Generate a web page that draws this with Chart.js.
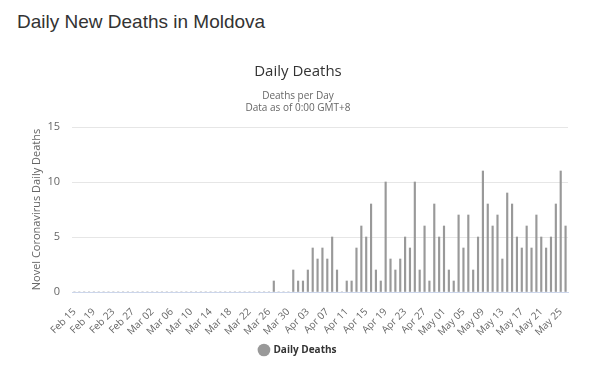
<!DOCTYPE html>
<html>
<head>
<meta charset="utf-8">
<script src="https://cdn.jsdelivr.net/npm/chart.js@4"></script>
<style>
  body { margin:0; background:#fff; }
  #wrap { position:relative; width:600px; height:365px; }
  #pageTitle { position:absolute; left:17px; top:11px; margin:0; font:19px "Liberation Sans", Arial, sans-serif; color:#333; font-weight:normal; }
  canvas { position:absolute; left:0; top:0; }
</style>
</head>
<body>
<div id="wrap">
  <h1 id="pageTitle">Daily New Deaths in Moldova</h1>
  <canvas id="chart" width="600" height="365"></canvas>
</div>
<script>
// ================= DATA =================
const startDate = "2020-02-15";
const dayCount = 102;
const yTicks = [0, 5, 10, 15];
const seriesName = "Daily Deaths";

// Feb 15 .. May 26
const dailyDeaths = [
  0,0,0,0,0,0,0,0,0,0,0,0,0,0,0,0,0,0,0,0,
  0,0,0,0,0,0,0,0,0,0,0,0,0,0,0,0,0,0,0,0,
  0,1,0,0,0,2,1,1,2,4,3,4,3,5,2,0,
  1,1,4,6,5,8,2,1,10,3,
  2,3,5,4,10,2,6,1,8,5,
  6,2,1,7,4,7,2,5,11,8,
  6,7,3,9,8,5,4,6,4,7,
  5,4,5,8,11,6
];

// category labels "Feb 15", "Feb 16", ...
const months = ["Jan","Feb","Mar","Apr","May","Jun"];
const dates = [];
const d0 = new Date(startDate + "T00:00:00");
for(let i=0;i<dayCount;i++){
  const d = new Date(d0.getTime() + i*86400000);
  dates.push(`${months[d.getMonth()]} ${String(d.getDate()).padStart(2,"0")}`);
}

// ================= CHART =================
const gridColor = "#e6e6e6";
const textColor = "#666";

new Chart(document.getElementById("chart"), {
  type: "bar",
  data: {
    labels: dates,
    datasets: [{
      label: seriesName,
      data: dailyDeaths,
      backgroundColor: "#999",
      borderWidth: 0,
      barThickness: 1.5
    }]
  },
  options: {
    responsive: false,
    animation: false,
    layout: { padding: { left: 28, right: 32, top: 0, bottom: 0 } },
    plugins: {
      title: {
        display: true,
        text: "Daily Deaths",
        color: "#333",
        font: { family: "Open Sans", size: 15, weight: "normal" },
        padding: { top: 63, bottom: 9 }
      },
      subtitle: {
        display: true,
        text: ["Deaths per Day", "Data as of 0:00 GMT+8"],
        color: textColor,
        font: { family: "Open Sans", size: 10, lineHeight: 1.2 },
        padding: { bottom: 13 }
      },
      legend: {
        position: "bottom",
        labels: {
          usePointStyle: true,
          pointStyle: "circle",
          boxWidth: 9,
          boxHeight: 9,
          padding: 6,
          color: "#333",
          font: { family: "Open Sans", size: 10, weight: "bold" }
        }
      },
      tooltip: { enabled: false }
    },
    scales: {
      x: {
        grid: { display: false, drawTicks: false },
        border: { color: "#ccd6eb" },
        afterFit: axis => { axis.height = 47; axis.paddingLeft = 0; },
        ticks: {
          autoSkip: false,
          maxRotation: 45,
          minRotation: 45,
          padding: 14,
          color: textColor,
          font: { family: "Open Sans", size: 10 },
          callback: (v, i) => i % 4 === 0 ? dates[i] : ""
        }
      },
      y: {
        min: 0,
        max: 15,
        afterBuildTicks: axis => { axis.ticks = yTicks.map(v => ({ value: v })); },
        afterFit: axis => { axis.width = 44; },
        grid: { color: gridColor, drawTicks: false },
        border: { display: false },
        ticks: { color: textColor, font: { family: "Open Sans", size: 11 }, padding: 12 },
        title: {
          display: true,
          text: "Novel Coronavirus Daily Deaths",
          color: textColor,
          font: { family: "Open Sans", size: 11 },
          padding: { top: 2, bottom: 2 }
        }
      }
    }
  }
});
</script>
</body>
</html>
